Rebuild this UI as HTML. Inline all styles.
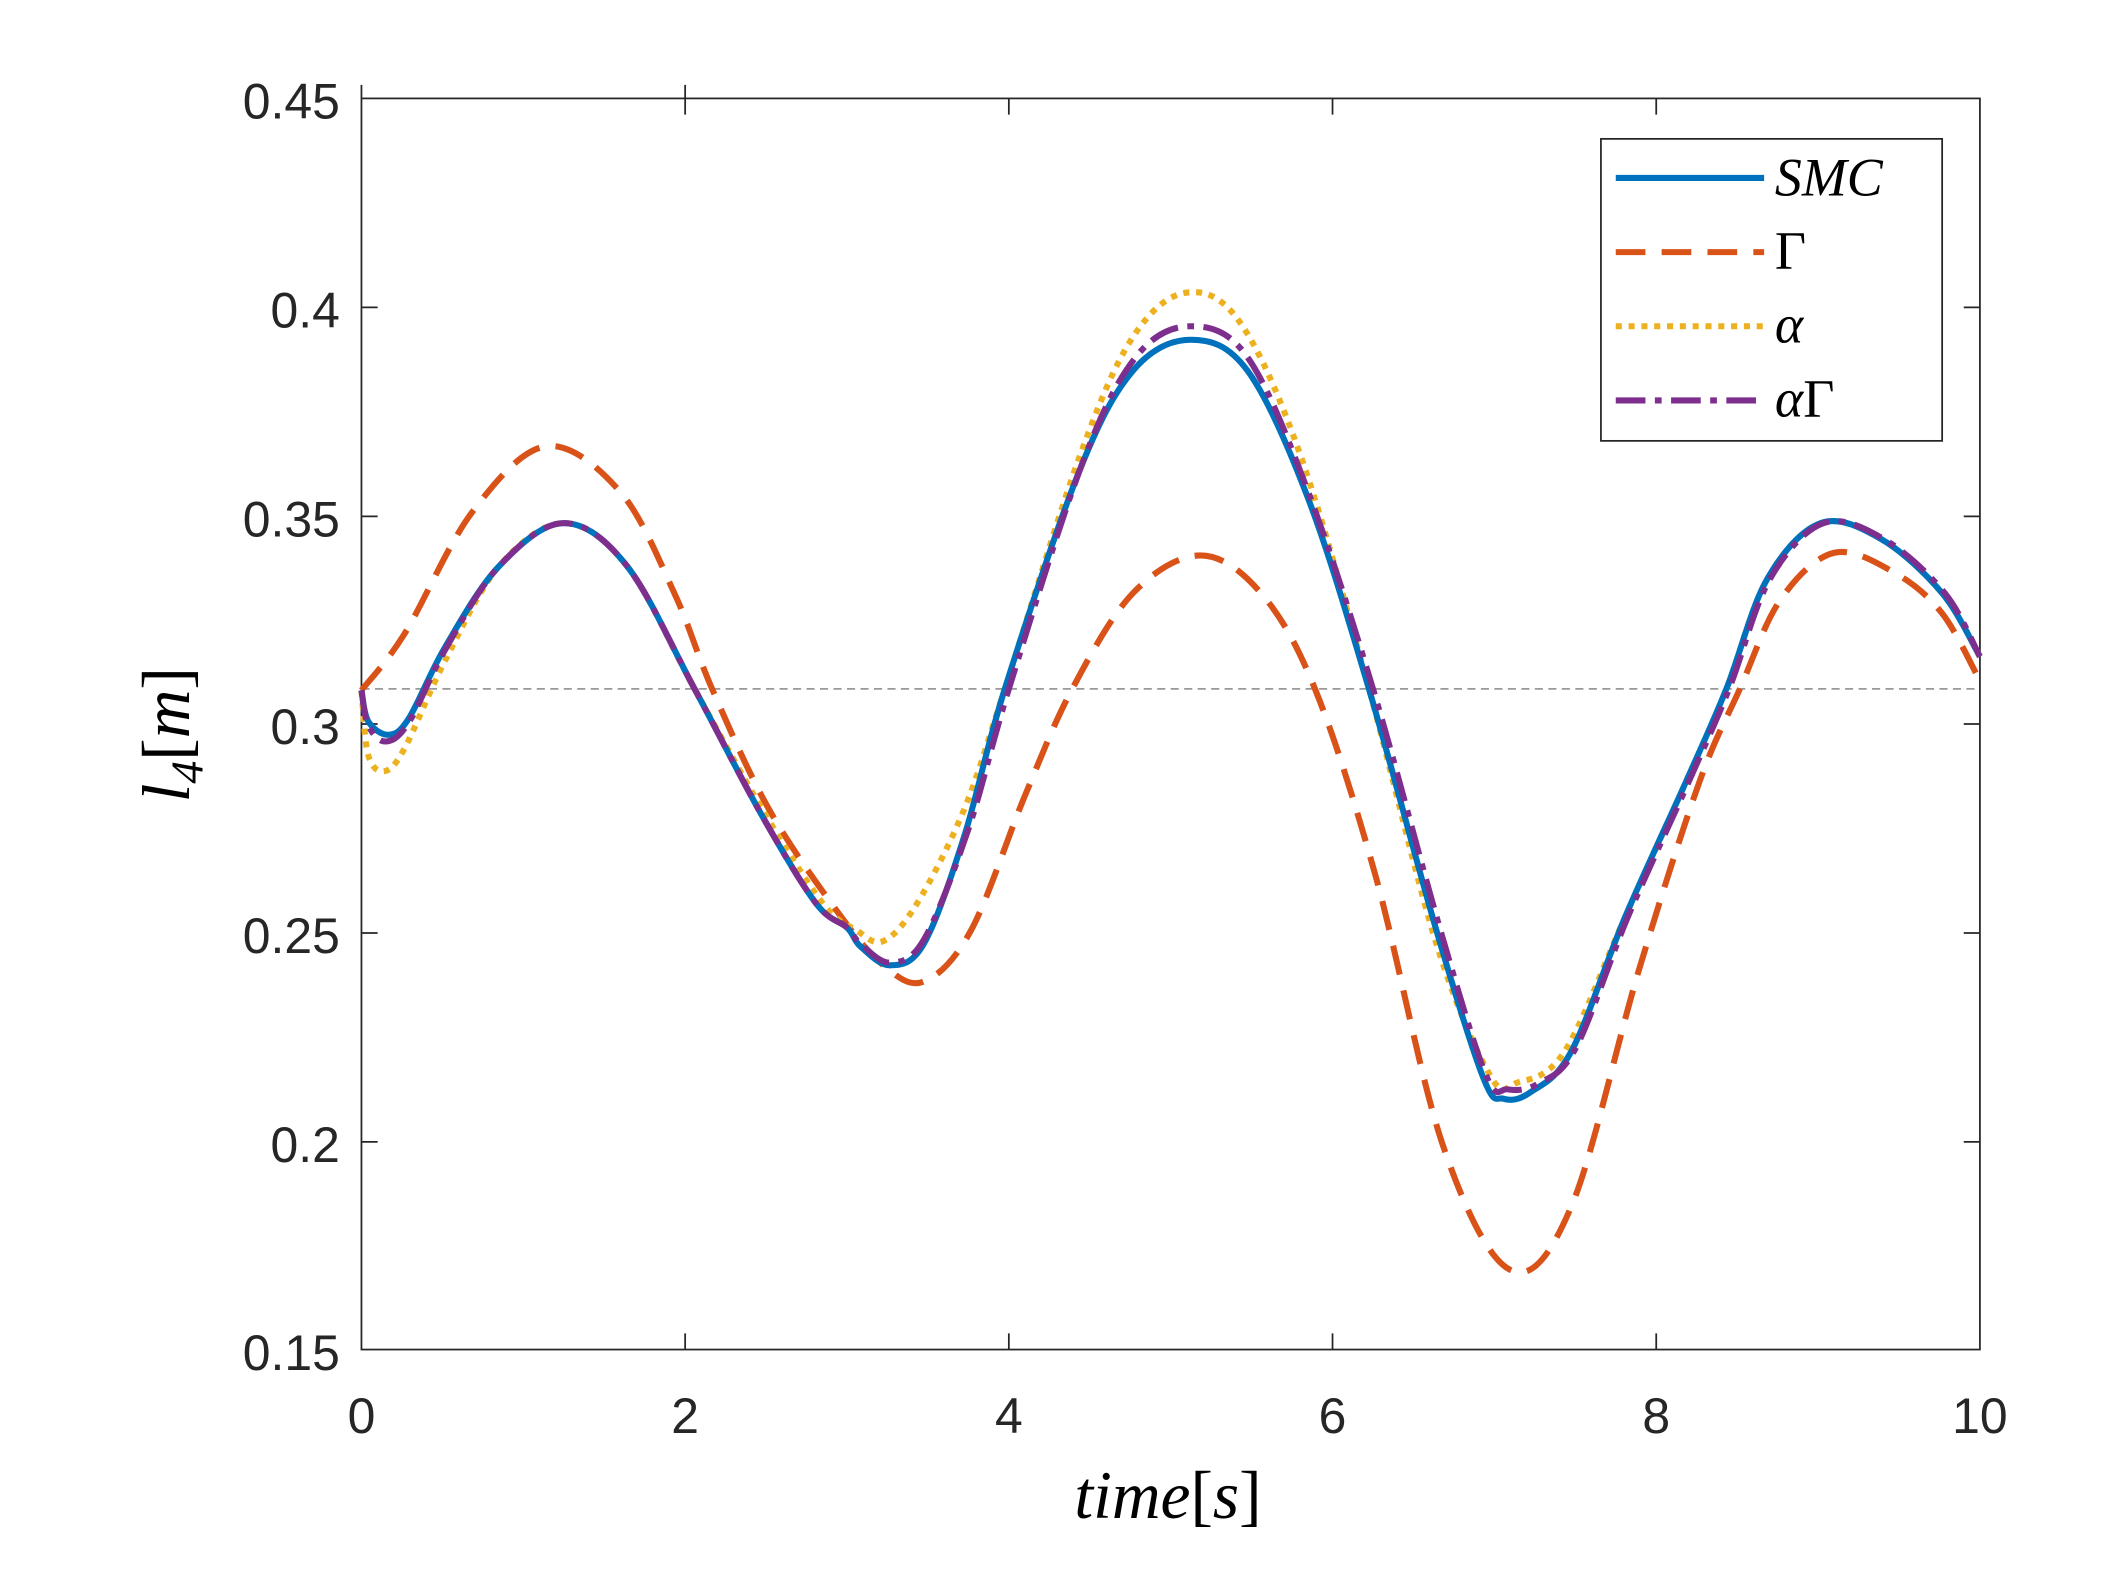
<!DOCTYPE html>
<html><head><meta charset="utf-8"><style>
html,body{margin:0;padding:0;background:#fff;}
svg{display:block;}
.t{font-family:"Liberation Sans",sans-serif;font-size:37px;fill:#262626;}
.m{font-family:"Liberation Serif",serif;font-style:italic;fill:#000;}
</style></head><body>
<svg id="s" width="2104" height="1572" viewBox="0 0 1560 1166" preserveAspectRatio="none" xmlns="http://www.w3.org/2000/svg">
<rect x="0" y="0" width="1560" height="1166" fill="#fff"/>
<g stroke="#262626" stroke-width="1.3" fill="none">
<rect x="268" y="73" width="1200" height="928"/>
<path d="M268,73v-10M508,73v-10"/>
</g>
<g id="ticks" stroke="#262626" stroke-width="1.3"></g>
<line x1="268" y1="511" x2="1468" y2="511" stroke="#999" stroke-width="1.3" stroke-dasharray="6,4"/>
<g id="curves" fill="none" stroke-width="4.5"></g>
<g class="t" text-anchor="end">
<text x="252" y="88">0.45</text><text x="252" y="243">0.4</text><text x="252" y="398">0.35</text>
<text x="252" y="552">0.3</text><text x="252" y="707">0.25</text><text x="252" y="862">0.2</text><text x="252" y="1016">0.15</text>
</g>
<g class="t" text-anchor="middle">
<text x="268" y="1063">0</text><text x="508" y="1063">2</text><text x="748" y="1063">4</text>
<text x="988" y="1063">6</text><text x="1228" y="1063">8</text><text x="1468" y="1063">10</text>
</g>
<text class="m" x="866" y="1126" font-size="50" text-anchor="middle">time<tspan font-style="normal">[</tspan>s<tspan font-style="normal">]</tspan></text>
<text class="m" transform="translate(140,545) rotate(-90)" font-size="50" text-anchor="middle">l<tspan font-size="34" dy="10">4</tspan><tspan font-style="normal" dy="-10">[</tspan>m<tspan font-style="normal">]</tspan></text>
<rect x="1187" y="103" width="253" height="224" fill="#fff" stroke="#262626" stroke-width="1.3"/>
<line x1="1198" y1="132" x2="1308" y2="132" stroke="#0072BD" stroke-width="4.5"/>
<line x1="1198" y1="187" x2="1308" y2="187" stroke="#D95319" stroke-width="4.5" stroke-dasharray="22,12"/>
<line x1="1198" y1="242" x2="1308" y2="242" stroke="#EDB120" stroke-width="4.5" stroke-dasharray="4.5,5"/>
<line x1="1198" y1="297" x2="1308" y2="297" stroke="#7E2F8E" stroke-width="4.5" stroke-dasharray="22,7,5,7"/>
<g class="m" font-size="40">
<text x="1316" y="145">SMC</text>
<text x="1316" y="199" font-style="normal">Γ</text>
<text x="1316" y="254">α</text>
<text x="1316" y="309">α<tspan font-style="normal">Γ</tspan></text>
</g>
</svg>
<script>
var NS="http://www.w3.org/2000/svg";
var tk=document.getElementById("ticks"),d="";
[508,748,988,1228].forEach(function(x){d+="M"+x+",1001v-12M"+x+",73v12";});
[228,383,537,692,847].forEach(function(y){d+="M268,"+y+"h12M1468,"+y+"h-12";});
var p=document.createElementNS(NS,"path");p.setAttribute("d",d);tk.appendChild(p);
function cr(pts){var s="M"+pts[0][0]+","+pts[0][1];for(var i=0;i<pts.length-1;i++){var p0=pts[Math.max(0,i-1)],p1=pts[i],p2=pts[i+1],p3=pts[Math.min(pts.length-1,i+2)];
s+="C"+(p1[0]+(p2[0]-p0[0])/6)+","+(p1[1]+(p2[1]-p0[1])/6)+" "+(p2[0]-(p3[0]-p1[0])/6)+","+(p2[1]-(p3[1]-p1[1])/6)+" "+p2[0]+","+p2[1];}return s;}
var series=[
["#D95319","22,12",[[268,512],[300,470],[350,380],[405,331],[460,365],[500,440],[528,511],[570,600],[620,675],[655,716],[685,728],[720,690],[760,590],[795,511],[840,440],[890,412],[935,440],[975,511],[1020,650],[1070,850],[1120,942],[1165,895],[1215,720],[1260,580],[1290,511],[1320,445],[1360,410],[1405,425],[1440,455],[1468,505]]],
["#EDB120","4.5,5",[[268,512],[273,560],[285,572],[300,555],[330,490],[370,420],[418,388],[465,420],[515,511],[565,600],[610,670],[635,690],[655,698],[680,670],[715,600],[745,511],[800,340],[840,250],[880,217],[920,240],[965,340],[1015,511],[1065,700],[1105,798],[1125,803],[1160,780],[1205,680],[1250,580],[1280,511],[1310,430],[1350,388],[1395,400],[1440,440],[1468,487]]],
["#0072BD",null,[[268,512],[273,535],[288,545],[303,533],[330,480],[370,420],[418,388],[465,420],[515,511],[565,605],[605,670],[628,688],[638,702],[660,716],[685,700],[715,620],[745,511],[800,350],[840,275],[883,252],[925,275],[970,370],[1015,511],[1065,690],[1100,800],[1115,815],[1135,810],[1165,780],[1205,680],[1250,580],[1280,511],[1310,430],[1350,388],[1395,400],[1440,440],[1468,487]]],
["#7E2F8E","22,7,5,7",[[268,512],[273,538],[286,550],[303,536],[330,482],[370,420],[418,388],[465,420],[515,511],[565,605],[605,670],[628,688],[638,700],[660,714],[685,697],[718,615],[748,511],[802,345],[842,265],[883,242],[925,265],[970,365],[1018,511],[1068,690],[1102,798],[1118,808],[1140,804],[1168,778],[1207,680],[1252,580],[1282,511],[1312,430],[1352,388],[1397,400],[1442,440],[1468,487]]]
];
var g=document.getElementById("curves");
series.forEach(function(s){var e=document.createElementNS(NS,"path");e.setAttribute("d",cr(s[2]));e.setAttribute("stroke",s[0]);if(s[1])e.setAttribute("stroke-dasharray",s[1]);g.appendChild(e);});
</script>
</body></html>
